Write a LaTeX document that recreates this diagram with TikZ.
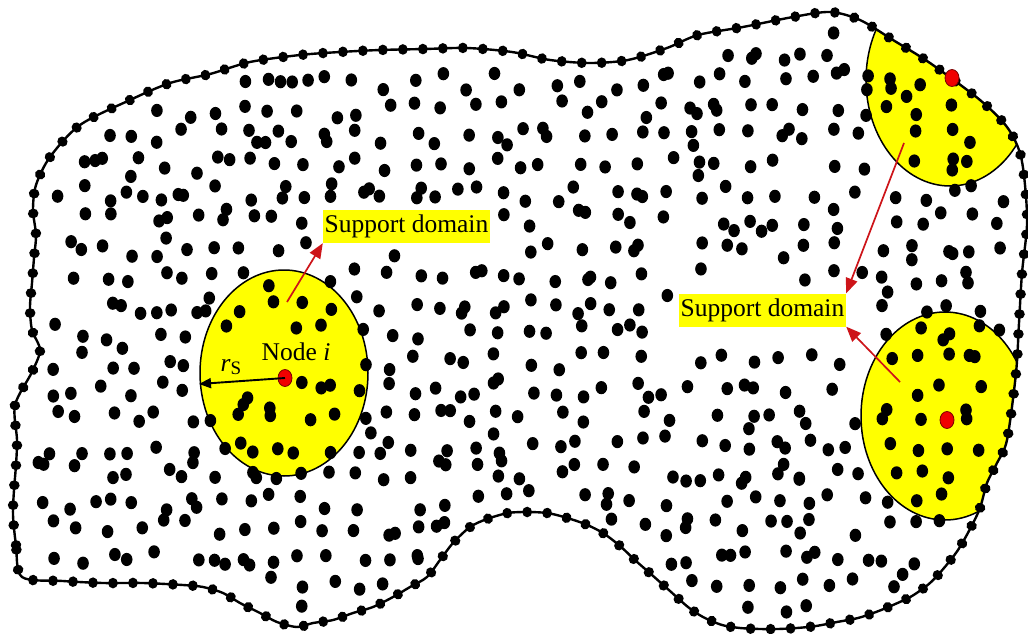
\documentclass[tikz,border=0pt]{standalone}
\usepackage{fontspec}
\setmainfont{Liberation Serif}
\usetikzlibrary{decorations.markings,arrows.meta,shapes.geometric}
\definecolor{ylw}{RGB}{255,255,0}
\definecolor{arr}{RGB}{205,20,25}
\definecolor{rednode}{RGB}{240,0,0}
\newcommand\boundary[1]{\path[#1] plot[smooth cycle, tension=0.5] coordinates {
(22,577) (16,545) (13,515) (14,490) (16,465) (17,440) (15,405) (32,372) (40,350) (32,330) (30,307) (32,283) (34,258) (36,235) (33,210) (36,185) (50,157) (80,125) (130,100) (170,83) (210,74) (250,62) (300,55) (340,52) (380,50) (425,49) (467,48) (512,52) (550,60) (590,63) (628,60) (667,48) (698,35) (743,27) (793,17) (830,12) (860,20) (893,40) (930,63) (980,100) (1007,127) (1020,153) (1025,185) (1027,225) (1022,273) (1019,323) (1016,373) (1007,440) (997,463) (987,483) (980,508) (970,529) (958,550) (944,568) (930,583) (912,596) (893,605) (876,612) (858,618) (837,622) (816,626) (797,628) (778,629) (760,629) (740,628) (722,625) (703,617) (688,607) (670,591) (652,575) (636,561) (620,546) (603,533) (585,524) (564,517) (547,513) (527,512) (508,513) (487,519) (470,527) (453,543) (440,560) (427,577) (410,587) (393,597) (373,607) (353,613) (333,620) (313,623) (297,627) (277,622) (260,613) (240,603) (223,593) (203,587) (183,585) (143,583) (103,583) (63,581)
};}
\tikzset{
  declare function={
    inrect(\qa,\qb,\qc,\qd,\qe,\qf)=(\qa>\qc)*(\qa<\qd)*(\qb>\qe)*(\qb<\qf);
    segt(\qa,\qb,\qc,\qd,\qe,\qf)=max(0,min(1,((\qa-\qc)*(\qe-\qc)+(\qb-\qd)*(\qf-\qd))/((\qe-\qc)^2+(\qf-\qd)^2)));
    segd(\qa,\qb,\qc,\qd,\qe,\qf)=veclen(\qa-\qc-segt(\qa,\qb,\qc,\qd,\qe,\qf)*(\qe-\qc),\qb-\qd-segt(\qa,\qb,\qc,\qd,\qe,\qf)*(\qf-\qd));
  },
  lab/.style={fill=ylw, inner sep=0pt, minimum width=167pt, minimum height=33pt, font=\fontsize{25.5}{25.5}\selectfont},
  redarr/.style={draw=arr, line width=1.7pt, -{Triangle[length=15pt,width=12pt]}},
  rnode/.style={ellipse, fill=rednode, draw={rgb,255:red,120;green,0;blue,0}, line width=0.8pt, minimum width=14pt, minimum height=17pt, inner sep=0pt},
  dom/.style={fill=ylw, draw=black, line width=1.5pt},
}
\begin{document}
\begin{tikzpicture}[x=1pt,y=-1pt]
\useasboundingbox (0,0) rectangle (1028,634);
\fill[white] (0,0) rectangle (1028,634);
% support domains
\node[ellipse, dom, minimum width=168pt, minimum height=206pt, inner sep=0pt] (dom1) at (284,373) {};
\begin{scope}
  \boundary{clip}
  \fill[ylw] (950,80) ellipse [x radius=84pt, y radius=106pt];
  \fill[ylw] (945,416) ellipse [x radius=84pt, y radius=104pt];
  \draw[line width=1.5pt] (950,80) ellipse [x radius=84pt, y radius=106pt];
  \draw[line width=1.5pt] (945,416) ellipse [x radius=84pt, y radius=104pt];
\end{scope}
% interior field nodes
\pgfmathsetseed{2024}
\begin{scope}
\boundary{clip}
\foreach \jit/\pk in {9/0.95, 13/0.2}{
\foreach \cx/\yt/\yb in {22/400/577, 50/157/579, 78/127/581, 106/113/583, 134/98/583, 162/86/584, 190/79/586, 218/72/592, 246/63/606, 274/60/618, 302/55/626, 330/52/621, 358/51/612, 386/50/604, 414/49/586, 442/49/558, 470/48/527, 498/50/516, 526/55/512, 554/60/515, 582/63/523, 610/62/538, 638/57/563, 666/48/588, 694/37/612, 722/31/625, 750/26/628, 778/20/629, 806/15/627, 834/13/623, 862/21/617, 890/38/606, 918/55/592, 946/75/566, 974/96/520, 1002/122/450}{
  \foreach \cy/\xl/\xr in {25/0/1028, 53/0/1028, 81/0/1028, 109/0/1028, 137/0/1028, 165/42/1022, 193/34/1025, 221/35/1027, 249/34/1025, 277/32/1022, 305/30/1019, 333/33/1017, 361/36/1015, 389/23/1013, 417/17/1010, 445/20/1003, 473/17/993, 501/13/983, 529/14/970, 557/19/953, 585/20/928, 613/20/880}{
    \pgfmathsetmacro\px{\cx+\jit*rand}
    \pgfmathsetmacro\py{\cy+\jit*rand}
    \pgfmathtruncatemacro\keep{(rnd<\pk)*(\px>\xl+16)*(\px<\xr-16)*(\py>\yt+16)*(\py<\yb-16)*(1-inrect(\px,\py,312,500,198,254))*(1-inrect(\px,\py,668,857,281,339))*(1-inrect(\px,\py,252,340,332,369))*(1-inrect(\px,\py,194,298,351,393))*(segd(\px/10,\py/10,28.7,30.2,32.2,23.8)>1.1)*(segd(\px/10,\py/10,90.4,14.3,84.3,28.8)>1.1)*(segd(\px/10,\py/10,90.0,38.2,84.6,33.0)>1.1)*(veclen(\px/10-94.7,\py/10-42.0)>1.5)*(veclen(\px/10-95.2,\py/10-7.8)>1.5)}
    \ifnum\keep=1 \fill (\px,\py) ellipse [x radius=5.8pt, y radius=6.6pt];\fi
  }
}}
\end{scope}
% boundary with boundary nodes
\boundary{draw, line width=2.4pt}
\boundary{decorate, decoration={markings, mark=between positions 0 and 1 step 20pt with {\fill (0,0) ellipse [x radius=4.9pt, y radius=5.3pt];}}}
% red nodes
\node[rnode] (ni) at (285,378) {};
\node[rnode] (n2) at (952,78) {};
\node[rnode] (n3) at (947,420) {};
% texts
\node[font=\fontsize{25.5}{25.5}\selectfont] (nt) at (296,352) {Node \textit{i}};
\node[font=\fontsize{25.5}{25.5}\selectfont] (rs) at (231,367) {\textit{r}\raisebox{-0.3ex}{\fontsize{19}{19}\selectfont S}};
\coordinate (rsend) at (199,384);
\draw[line width=1.9pt, -{Triangle[length=12pt,width=10pt]}] (ni.center) -- (rsend);
% labels
\node[lab] (sd1) at (406.5,226.5) {Support domain};
\node[lab] (sd2) at (762.5,310) {Support domain};
\coordinate (t1) at (287,302);
\coordinate (t2) at (904,143);
\coordinate (t3) at (900,382);
\draw[redarr] (t1) -- (sd1.south west);
\draw[redarr] (t2) -- (sd2.north east);
\draw[redarr] (t3) -- (sd2.south east);
\end{tikzpicture}
\end{document}
